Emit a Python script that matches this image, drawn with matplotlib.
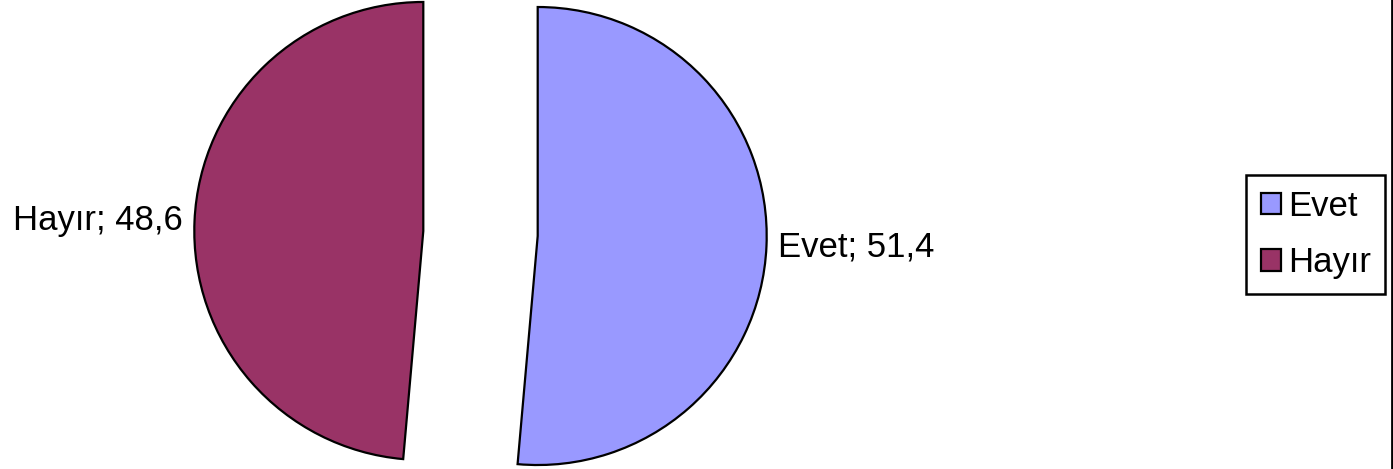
import matplotlib
matplotlib.use("Agg")
import matplotlib.pyplot as plt
from matplotlib.lines import Line2D

plt.rcParams['font.family'] = ['Liberation Sans', 'DejaVu Sans']

# data
categories = ["Evet", "Hayır"]
values = [51.4, 48.6]
colors = ["#9999FF", "#993366"]

W, H = 1393, 469
cx, cy, r = 480.5, 233.5, 229.0   # pie centre / radius in pixels

fig = plt.figure(figsize=(W / 100, H / 100), dpi=100)
ax = fig.add_axes([0, 0, 1, 1])

labels = [f"{c}; {v:.1f}".replace(".", ",") for c, v in zip(categories, values)]
wedges, texts = ax.pie(values, labels=labels, colors=colors, startangle=90,
                       counterclock=False, explode=[0.25, 0.25],
                       labeldistance=1.05,
                       wedgeprops=dict(edgecolor="black", linewidth=1.6),
                       textprops=dict(fontsize=25, color="black"))

ax.set_aspect("auto")
ax.set_xlim(-cx / r, (W - cx) / r)
ax.set_ylim(-(H - cy) / r, cy / r)
ax.axis("off")

leg = fig.legend(wedges, categories, loc="upper left",
                 bbox_to_anchor=(1246 / W, 1 - 175 / H),
                 bbox_transform=fig.transFigure, borderaxespad=0,
                 fontsize=25, frameon=True, fancybox=False,
                 handlelength=0.58, handleheight=0.58, handletextpad=0.2,
                 labelspacing=0.68, borderpad=0.42)
leg.get_frame().set_edgecolor("black")
leg.get_frame().set_linewidth(1.8)
leg.get_frame().set_alpha(1)
for h in leg.legend_handles:
    h.set_edgecolor("black")
    h.set_linewidth(1.6)

# right border of chart area
fig.add_artist(Line2D([1391.5 / W, 1391.5 / W], [0, 1], transform=fig.transFigure,
                      color="black", linewidth=2))

fig.savefig("out.png", dpi=100)
